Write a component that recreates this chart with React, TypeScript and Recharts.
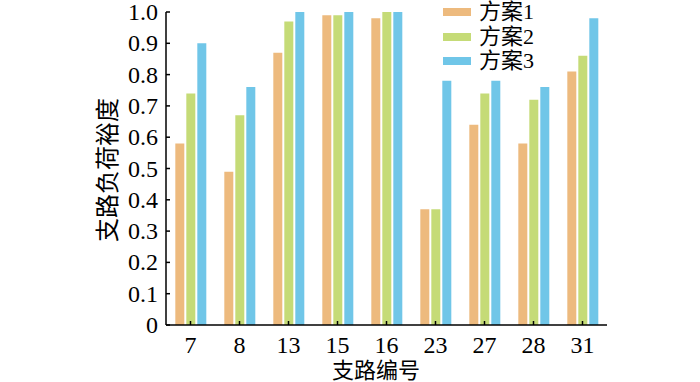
import { BarChart, Bar, XAxis, YAxis } from 'recharts';

const categories = ['7', '8', '13', '15', '16', '23', '27', '28', '31'];
const plan1 = [0.58, 0.49, 0.87, 0.99, 0.98, 0.37, 0.64, 0.58, 0.81];
const plan2 = [0.74, 0.67, 0.97, 0.99, 1.0, 0.37, 0.74, 0.72, 0.86];
const plan3 = [0.9, 0.76, 1.0, 1.0, 1.0, 0.78, 0.78, 0.76, 0.98];
const seriesNames = ['方案1', '方案2', '方案3'];
const yTicks = [0, 0.1, 0.2, 0.3, 0.4, 0.5, 0.6, 0.7, 0.8, 0.9, 1.0];

const colors = ['#EDBA7E', '#C5DB77', '#70C6E8'];
const font = '"Liberation Serif", "Noto Sans CJK SC", serif';

const data = categories.map((name, i) => ({
  name,
  p1: plan1[i],
  p2: plan2[i],
  p3: plan3[i],
}));

const XTick = (props: any) => {
  const { x, y, payload } = props;
  return (
    <text x={x} y={y + 21} textAnchor="middle" fontSize={24} fontFamily={font} fill="#000">
      {payload.value}
    </text>
  );
};

const YTick = (props: any) => {
  const { x, y, payload } = props;
  const v = payload.value as number;
  return (
    <text x={x} y={y} dy={8} textAnchor="end" fontSize={24} fontFamily={font} fill="#000">
      {v === 0 ? '0' : v.toFixed(1)}
    </text>
  );
};

export default function App() {
  return (
    <div style={{ position: 'absolute', left: 0, top: 0, width: 700, height: 382, background: '#fff', fontFamily: font }}>
      <BarChart
        width={700}
        height={382}
        data={data}
        margin={{ top: 12, right: 93, left: 0, bottom: 0 }}
        barCategoryGap="19%"
        barGap={2}
      >
        <XAxis
          dataKey="name"
          height={57}
          stroke="#000"
          strokeWidth={1.5}
          tickSize={-4}
          tickMargin={11}
          tick={<XTick />}
          interval={0}
          label={{
            content: () => (
              <text x={376} y={378} textAnchor="middle" fontSize={22} fontFamily={font} fill="#000">
                支路编号
              </text>
            ),
          }}
        />
        <YAxis
          width={166}
          domain={[0, 1]}
          ticks={yTicks}
          stroke="#000"
          strokeWidth={1.5}
          tickSize={-4}
          tickMargin={12}
          tick={<YTick />}
          interval={0}
          label={{
            content: () => (
              <text
                x={108}
                y={170}
                transform="rotate(-90 108 170)"
                textAnchor="middle"
                dominantBaseline="central"
                fontSize={24}
                fontFamily={font}
                fill="#000"
              >
                支路负荷裕度
              </text>
            ),
          }}
        />
        <Bar dataKey="p1" name={seriesNames[0]} fill={colors[0]} isAnimationActive={false} />
        <Bar dataKey="p2" name={seriesNames[1]} fill={colors[1]} isAnimationActive={false} />
        <Bar dataKey="p3" name={seriesNames[2]} fill={colors[2]} isAnimationActive={false} />
      </BarChart>
      <div style={{ position: 'absolute', left: 443, top: 0 }}>
        {seriesNames.map((n, i) => (
          <div key={n} style={{ display: 'flex', alignItems: 'center', height: 24.5, fontSize: 22, lineHeight: '24px' }}>
            <span style={{ display: 'inline-block', width: 28, height: 8, background: colors[i], marginRight: 8 }} />
            <span>{n}</span>
          </div>
        ))}
      </div>
    </div>
  );
}
